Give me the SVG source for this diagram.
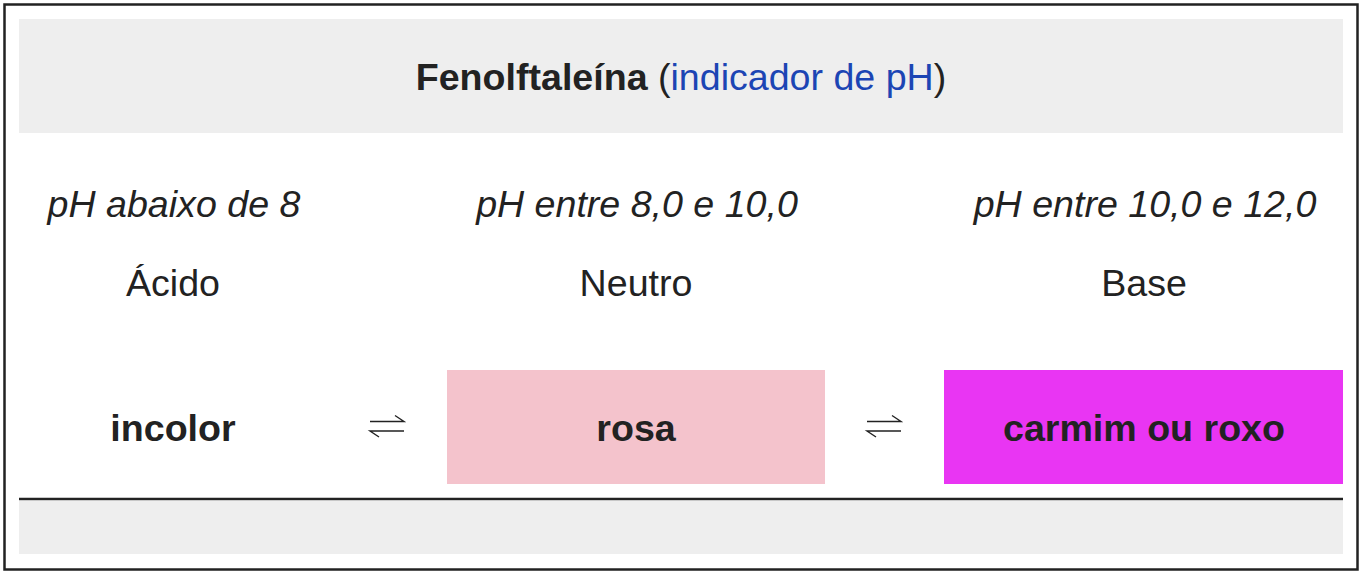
<svg xmlns="http://www.w3.org/2000/svg" width="1363" height="576" viewBox="0 0 1363 576">
<style>
text{font-family:"Liberation Sans",Arial,sans-serif;font-size:37.6px;fill:#222;text-anchor:middle}
.b{font-weight:bold}
.i{font-style:italic}
.eq{fill:none;stroke:#222;stroke-width:1.4}
</style>
<defs>
<g id="eqsym">
<path class="eq" d="M0,0 H34 L25,-6"/>
<path class="eq" d="M34,9.5 H0 L9,15.5"/>
</g>
</defs>
<rect x="0" y="0" width="1363" height="576" fill="#fff"/>
<rect x="4.5" y="4.5" width="1353" height="565" fill="#fff" stroke="#222" stroke-width="2.5"/>
<g id="header">
<rect x="19" y="19" width="1324" height="114" fill="#eeeeee"/>
<text x="681" y="90"><tspan class="b">Fenolftaleína</tspan> (<tspan fill="#1c45b4">indicador de pH</tspan>)</text>
</g>
<g id="col-acido">
<text class="i" x="174" y="217">pH abaixo de 8</text>
<text x="173" y="296">Ácido</text>
<text class="b" x="173" y="441">incolor</text>
</g>
<g id="col-neutro">
<text class="i" x="637" y="217">pH entre 8,0 e 10,0</text>
<text x="636" y="296">Neutro</text>
<rect x="447" y="370" width="378" height="114" fill="#f4c3cc"/>
<text class="b" x="636" y="441">rosa</text>
</g>
<g id="col-base">
<text class="i" x="1145" y="217">pH entre 10,0 e 12,0</text>
<text x="1144" y="296">Base</text>
<rect x="944" y="370" width="399" height="114" fill="#e935f3"/>
<text class="b" x="1144" y="441">carmim ou roxo</text>
</g>
<g id="connectors">
<use href="#eqsym" x="370" y="421.5"/>
<use href="#eqsym" x="867" y="421.5"/>
</g>
<g id="footer">
<line x1="19" y1="499" x2="1343" y2="499" stroke="#222" stroke-width="2.5"/>
<rect x="19" y="501" width="1324" height="53" fill="#eeeeee"/>
</g>
</svg>
